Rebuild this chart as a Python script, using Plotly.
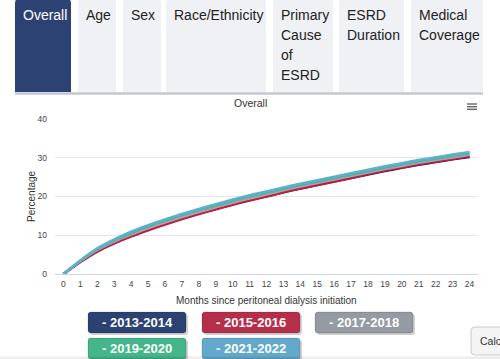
import plotly.graph_objects as go

months = list(range(25))
series_names = ["2013-2014", "2015-2016", "2017-2018", "2019-2020", "2021-2022"]
line_colors = ["#14236e", "#c41a42", "#a3a7ad", "#4fb48c", "#5bb0d2"]
button_colors = ["#2b4273", "#b52f4a", "#959aa3", "#45b58b", "#62a9cb"]

v_2013 = [0, 3.2, 5.9, 8.0, 9.8, 11.4, 12.9, 14.3, 15.6, 16.8, 18.0, 19.1, 20.1, 21.1, 22.1, 23.0, 23.9, 24.8, 25.7, 26.6, 27.4, 28.2, 28.9, 29.6, 30.2]
v_2015 = [0, 3.1, 5.8, 7.9, 9.7, 11.3, 12.8, 14.2, 15.5, 16.7, 17.9, 19.0, 20.0, 21.1, 22.1, 23.0, 23.9, 24.8, 25.8, 26.7, 27.5, 28.3, 29.0, 29.7, 30.4]
v_2017 = [0, 3.3, 6.2, 8.4, 10.2, 11.8, 13.3, 14.7, 16.0, 17.2, 18.4, 19.5, 20.5, 21.6, 22.6, 23.5, 24.4, 25.3, 26.2, 27.1, 27.9, 28.7, 29.4, 30.1, 30.8]
v_2019 = [0, 3.4, 6.4, 8.7, 10.6, 12.3, 13.8, 15.2, 16.5, 17.7, 18.9, 20.0, 21.0, 22.0, 23.0, 23.9, 24.8, 25.7, 26.6, 27.5, 28.3, 29.1, 29.8, 30.5, 31.2]
v_2021 = [0, 3.5, 6.6, 8.9, 10.9, 12.6, 14.1, 15.5, 16.8, 18.0, 19.2, 20.3, 21.3, 22.3, 23.3, 24.2, 25.1, 26.0, 26.9, 27.8, 28.6, 29.4, 30.1, 30.8, 31.5]
all_values = [v_2013, v_2015, v_2017, v_2019, v_2021]

tab_labels = [["Overall"], ["Age"], ["Sex"], ["Race/Ethnicity"], ["Primary", "Cause", "of", "ESRD"], ["ESRD", "Duration"], ["Medical", "Coverage"]]
y_ticks = [0, 10, 20, 30, 40]

FONT = "Liberation Sans, Arial, Helvetica, sans-serif"
W, H = 500, 359
PL, PR, PT, PB = 55, 478, 119, 274


def X(p):
    return (p - PL) / (PR - PL)


def Y(p):
    return (PB - p) / (PB - PT)


def rr(x0, y0, x1, y1, r, bottom_round=True):
    rb = r if bottom_round else 0
    d = (f"M {X(x0 + r)},{Y(y0)} L {X(x1 - r)},{Y(y0)} Q {X(x1)},{Y(y0)} {X(x1)},{Y(y0 + r)} "
         f"L {X(x1)},{Y(y1 - rb)} Q {X(x1)},{Y(y1)} {X(x1 - rb)},{Y(y1)} "
         f"L {X(x0 + rb)},{Y(y1)} Q {X(x0)},{Y(y1)} {X(x0)},{Y(y1 - rb)} "
         f"L {X(x0)},{Y(y0 + r)} Q {X(x0)},{Y(y0)} {X(x0 + r)},{Y(y0)} Z")
    return d


fig = go.Figure()
for name, vals, col in zip(series_names, all_values, line_colors):
    fig.add_trace(go.Scatter(x=months, y=vals, mode="lines", name=name,
                             line=dict(color=col, width=2.6, shape="spline", smoothing=0.6)))

shapes = []
annotations = []

# tabs
tab_x = [(15, 71), (78, 116), (123, 161), (166, 266), (273, 333), (339, 404), (411, 483)]
for i, ((x0, x1), lines) in enumerate(zip(tab_x, tab_labels)):
    fill = "#2c4272" if i == 0 else "#f0f1f5"
    shapes.append(dict(type="path", xref="paper", yref="paper", path=rr(x0, -1, x1, 92, 4, bottom_round=False),
                       fillcolor=fill, line=dict(width=0), layer="above"))
    for j, t in enumerate(lines):
        annotations.append(dict(xref="paper", yref="paper", x=X(x0 + 6), y=Y(14.5 + 20.3 * j),
                                xanchor="left", yanchor="middle", showarrow=False, text=t,
                                font=dict(family=FONT, size=14, color="#ffffff" if i == 0 else "#222222")))
shapes.append(dict(type="line", xref="paper", yref="paper", x0=X(15), x1=X(483), y0=Y(93.5), y1=Y(93.5),
                   line=dict(color="#c3c7cf", width=2.5)))

# hamburger menu
for yy in (104, 106.7, 109.3):
    shapes.append(dict(type="line", xref="paper", yref="paper", x0=X(467), x1=X(477), y0=Y(yy), y1=Y(yy),
                       line=dict(color="#666666", width=1.4)))

# chart title and axis titles
annotations.append(dict(xref="paper", yref="paper", x=X(250), y=Y(102.5), showarrow=False, text="Overall",
                        xanchor="center", yanchor="middle", font=dict(family=FONT, size=10.5, color="#333333")))
annotations.append(dict(xref="paper", yref="paper", x=X(31), y=Y(196), showarrow=False, text="Percentage",
                        textangle=-90, xanchor="center", yanchor="middle", font=dict(family=FONT, size=10, color="#333333")))
annotations.append(dict(xref="paper", yref="paper", x=X(266.5), y=Y(300), showarrow=False,
                        text="Months since peritoneal dialysis initiation",
                        xanchor="center", yanchor="middle", font=dict(family=FONT, size=10, color="#333333")))

# legend buttons
btn_pos = [(88, 312), (202, 312), (315, 312), (88, 338), (202, 338)]
for (bx, by), name, col in zip(btn_pos, series_names, button_colors):
    shapes.append(dict(type="path", xref="paper", yref="paper", path=rr(bx + 2, by + 2, bx + 100, by + 23, 3),
                       fillcolor="rgba(0,0,0,0.18)", line=dict(width=0)))
    shapes.append(dict(type="path", xref="paper", yref="paper", path=rr(bx, by, bx + 98, by + 21, 3),
                       fillcolor=col, line=dict(color="rgba(0,0,0,0.15)", width=1)))
    annotations.append(dict(xref="paper", yref="paper", x=X(bx + 49), y=Y(by + 10.5), showarrow=False,
                            text="<b>- " + name + "</b>", xanchor="center", yanchor="middle",
                            font=dict(family=FONT, size=13, color="#ffffff")))

# partially visible button on the right
shapes.append(dict(type="path", xref="paper", yref="paper", path=rr(471, 327, 530, 355, 4),
                   fillcolor="#f4f4f4", line=dict(color="#cccccc", width=1)))
annotations.append(dict(xref="paper", yref="paper", x=X(477.5), y=Y(341), showarrow=False, text="Calc",
                        xanchor="left", yanchor="middle", font=dict(family=FONT, size=10.5, color="#333333")))
# bottom edge shade
shapes.append(dict(type="rect", xref="paper", yref="paper", x0=X(0), x1=X(500), y0=Y(356.5), y1=Y(359.5),
                   fillcolor="rgba(0,0,0,0.07)", line=dict(width=0)))

fig.update_layout(
    width=W, height=H, autosize=False,
    margin=dict(l=PL, r=W - PR, t=PT, b=H - PB, pad=0),
    paper_bgcolor="#ffffff", plot_bgcolor="#ffffff",
    showlegend=False,
    shapes=shapes, annotations=annotations,
    font=dict(family=FONT, color="#444444"),
    xaxis=dict(range=[-0.5, 24.5], tickvals=months, ticktext=[str(m) for m in months], showgrid=False,
               zeroline=False, showline=True, linecolor="#ccd6eb", linewidth=1, ticks="",
               tickfont=dict(family=FONT, size=8.5, color="#444444"), ticklabelstandoff=2, fixedrange=True),
    yaxis=dict(range=[0, 40], tickvals=y_ticks, showgrid=True, gridcolor="#e6e6e6", gridwidth=1,
               zeroline=False, showline=False, ticks="",
               tickfont=dict(family=FONT, size=8.5, color="#444444"), ticklabelstandoff=7, fixedrange=True),
)

fig.write_html("out.html", config={"displayModeBar": False},
               post_script="document.body.style.margin='0';document.body.style.overflow='hidden';")
